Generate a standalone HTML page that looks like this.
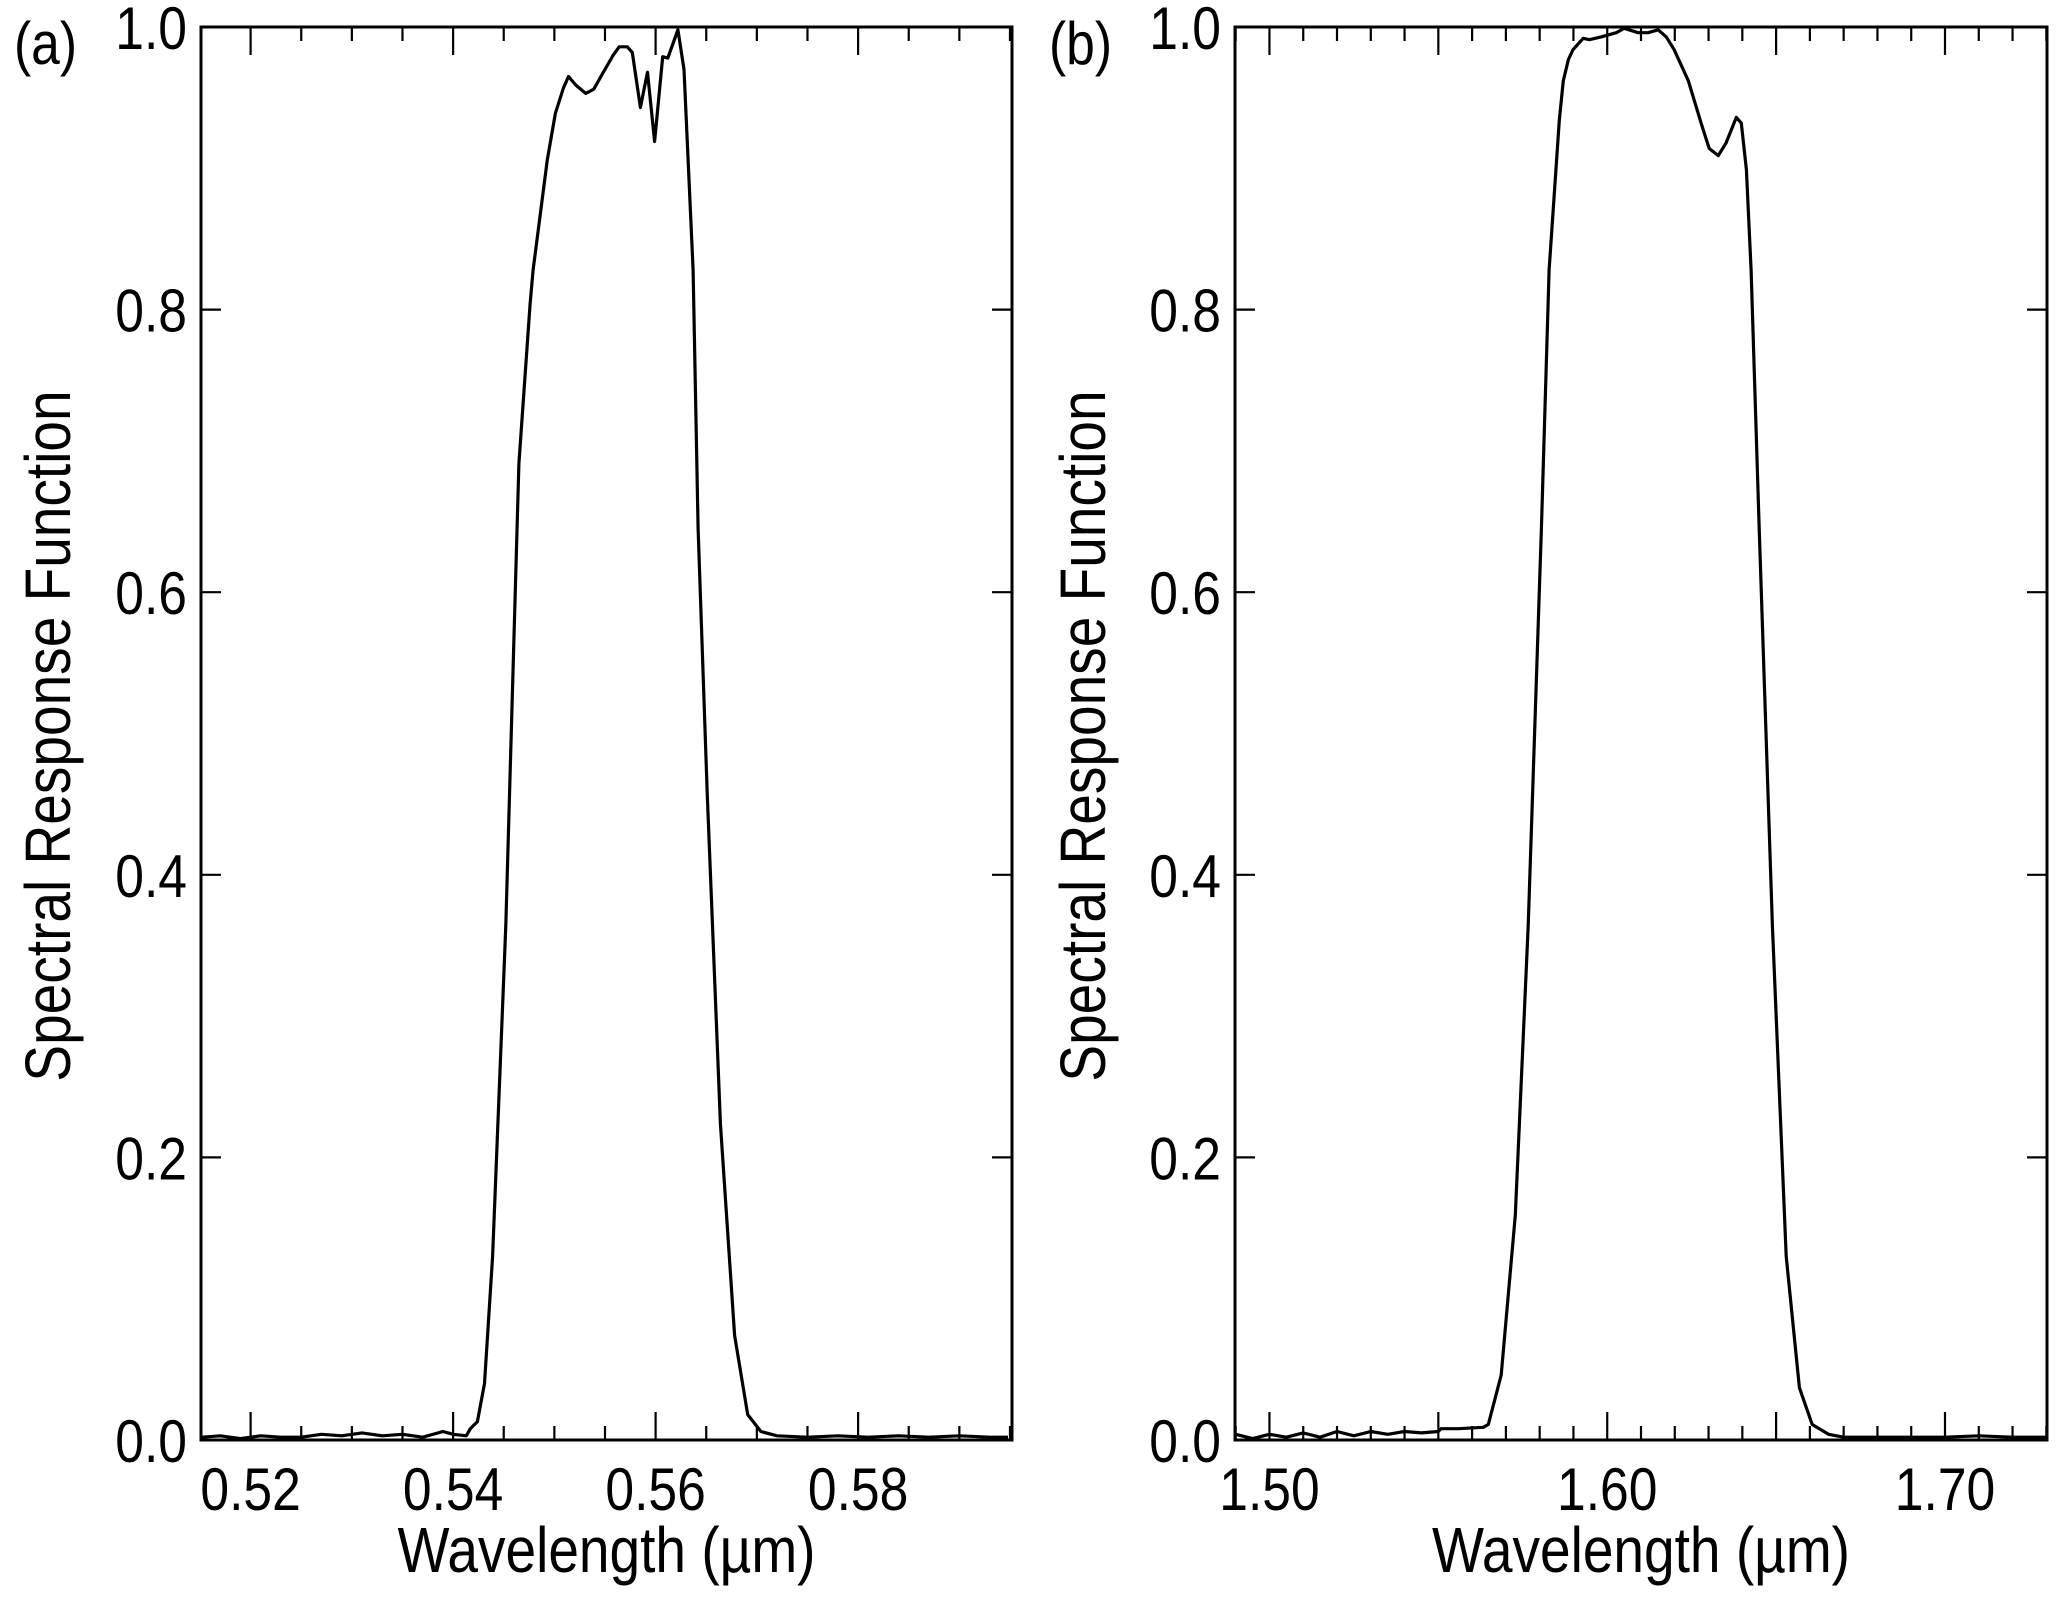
<!DOCTYPE html>
<html><head><meta charset="utf-8">
<style>
html,body{margin:0;padding:0;background:#fff;}
svg{display:block;}
text{font-family:"Liberation Sans",Arial,sans-serif;fill:#000;}
</style></head>
<body>
<svg id="fig" width="2067" height="1602" viewBox="0 0 2067 1602" xmlns="http://www.w3.org/2000/svg"></svg>
<script>
// Panel (a) data
const aX = [0.5152,0.517,0.519,0.521,0.523,0.525,0.527,0.529,0.531,0.533,0.535,0.537,0.539,0.540,0.5413,0.5417,0.5424,0.5431,0.5439,0.5452,0.5465,0.5476,0.5479,0.5493,0.5501,0.5509,0.5514,0.5521,0.5531,0.5539,0.5546,0.5558,0.5564,0.5572,0.5577,0.5585,0.5592,0.5599,0.5607,0.5612,0.5622,0.5628,0.5637,0.5642,0.5651,0.5664,0.5678,0.5691,0.5704,0.572,0.575,0.578,0.581,0.584,0.587,0.590,0.593,0.5948];
const aY = [0.002,0.003,0.001,0.003,0.002,0.002,0.004,0.003,0.005,0.003,0.004,0.002,0.006,0.004,0.003,0.008,0.013,0.04,0.13,0.364,0.691,0.804,0.828,0.906,0.939,0.957,0.965,0.959,0.953,0.956,0.965,0.980,0.986,0.986,0.982,0.943,0.968,0.919,0.979,0.978,0.998,0.970,0.828,0.645,0.458,0.224,0.074,0.018,0.006,0.003,0.002,0.003,0.002,0.003,0.002,0.003,0.002,0.002];
// Panel (b) data
const bX = [1.4900,1.495,1.500,1.505,1.510,1.515,1.520,1.525,1.530,1.535,1.540,1.545,1.550,1.5508,1.556,1.5633,1.5648,1.5686,1.5728,1.5766,1.5805,1.5828,1.5858,1.5870,1.5885,1.5899,1.5929,1.5947,1.5982,1.6027,1.6050,1.6092,1.6121,1.6151,1.6175,1.6198,1.6240,1.6278,1.6302,1.6329,1.6352,1.6382,1.6397,1.6412,1.6426,1.6450,1.6489,1.6530,1.6569,1.6607,1.6655,1.670,1.680,1.690,1.700,1.710,1.720,1.730];
const bY = [0.004,0.001,0.004,0.002,0.005,0.002,0.006,0.003,0.006,0.004,0.006,0.005,0.006,0.008,0.008,0.009,0.011,0.046,0.159,0.364,0.645,0.828,0.934,0.962,0.977,0.984,0.992,0.991,0.993,0.996,0.999,0.996,0.996,0.998,0.993,0.984,0.962,0.932,0.914,0.909,0.918,0.936,0.932,0.899,0.828,0.645,0.364,0.13,0.037,0.011,0.004,0.002,0.002,0.002,0.002,0.003,0.002,0.002];
const yTicks = [0.0,0.2,0.4,0.6,0.8,1.0];
const yTickLabels = ["0.0","0.2","0.4","0.6","0.8","1.0"];
const aXTicks = [0.52,0.54,0.56,0.58];
const aXTickLabels = ["0.52","0.54","0.56","0.58"];
const bXTicks = [1.50,1.60,1.70];
const bXTickLabels = ["1.50","1.60","1.70"];

const NS = "http://www.w3.org/2000/svg";
const svg = document.getElementById('fig');
function mk(tag, attrs, parent){
  const e = document.createElementNS(NS, tag);
  for (const k in attrs) e.setAttribute(k, attrs[k]);
  (parent||svg).appendChild(e);
  return e;
}
function txt(parent, x, y, s, size, anchor, rot){
  const t = mk('text', {x:0, y:0, 'text-anchor':anchor, 'font-size':size,
    transform:'translate('+x+','+y+')'+(rot?' rotate(-90)':'')+' scale(0.86,1)'}, parent);
  t.textContent = s;
  return t;
}
function panel(cfg){
  const g = mk('g', {});
  
  
  const L=cfg.left, R=cfg.right, T=27, B=1440;
  const sx = v => L + (v-cfg.xmin)/(cfg.xmax-cfg.xmin)*(R-L);
  const sy = v => B - v*(B-T);
  const fr = mk('rect', {x:L, y:T, width:R-L, height:B-T, fill:'none', stroke:'#000', 'stroke-width':3}, g);
  
  
  const first = Math.ceil(cfg.xmin/cfg.minor - 1e-6);
  for (let i=first; i*cfg.minor<=cfg.xmax+1e-9; i++){
    const v = i*cfg.minor, x = sx(v);
    const major = Math.abs(Math.round(v/cfg.major)*cfg.major - v) < cfg.minor/10;
    const len = major?28:14;
    mk('line',{x1:x,y1:B,x2:x,y2:B-len,stroke:'#000','stroke-width':2.2},g);
    mk('line',{x1:x,y1:T,x2:x,y2:T+len,stroke:'#000','stroke-width':2.2},g);
  }
  cfg.xTicks.forEach((v,i)=>{
    const t = txt(g, sx(v), 1510, cfg.xLabels[i], 60, 'middle');
    
    
  });
  yTicks.forEach((v,i)=>{
    const y = sy(v);
    mk('line',{x1:L,y1:y,x2:L+20,y2:y,stroke:'#000','stroke-width':2.2},g);
    mk('line',{x1:R,y1:y,x2:R-20,y2:y,stroke:'#000','stroke-width':2.2},g);
    const t = txt(g, L-14, y+22, yTickLabels[i], 60, 'end');
    
    
  });
  let d='';
  cfg.xs.forEach((v,i)=>{ d += (i?'L':'M') + sx(v).toFixed(1) + ' ' + sy(cfg.ys[i]).toFixed(1) + ' '; });
  const p = mk('path',{d:d, fill:'none', stroke:'#000','stroke-width':3.2,'stroke-linejoin':'round'},g);
  
  
  const xt = txt(g, (L+R)/2 - 0, 1572, 'Wavelength (\u00b5m)', 64, 'middle');
  
  
  const yt = txt(g, cfg.ytx, 736, 'Spectral Response Function', 64, 'middle', true);
  
  
  const pl = txt(g, cfg.labX, 64, cfg.label, 60, 'start');
  
  
}
panel({name:'panel-a', left:201, right:1012, xmin:0.5151, xmax:0.5952, minor:0.005, major:0.02,
  xTicks:aXTicks, xLabels:aXTickLabels, xs:aX, ys:aY, ytx:70, labX:14, label:'(a)'});
panel({name:'panel-b', left:1235, right:2047, xmin:1.4898, xmax:1.7302, minor:0.01, major:0.05,
  xTicks:bXTicks, xLabels:bXTickLabels, xs:bX, ys:bY, ytx:1105, labX:1049, label:'(b)'});
</script>
</body></html>
